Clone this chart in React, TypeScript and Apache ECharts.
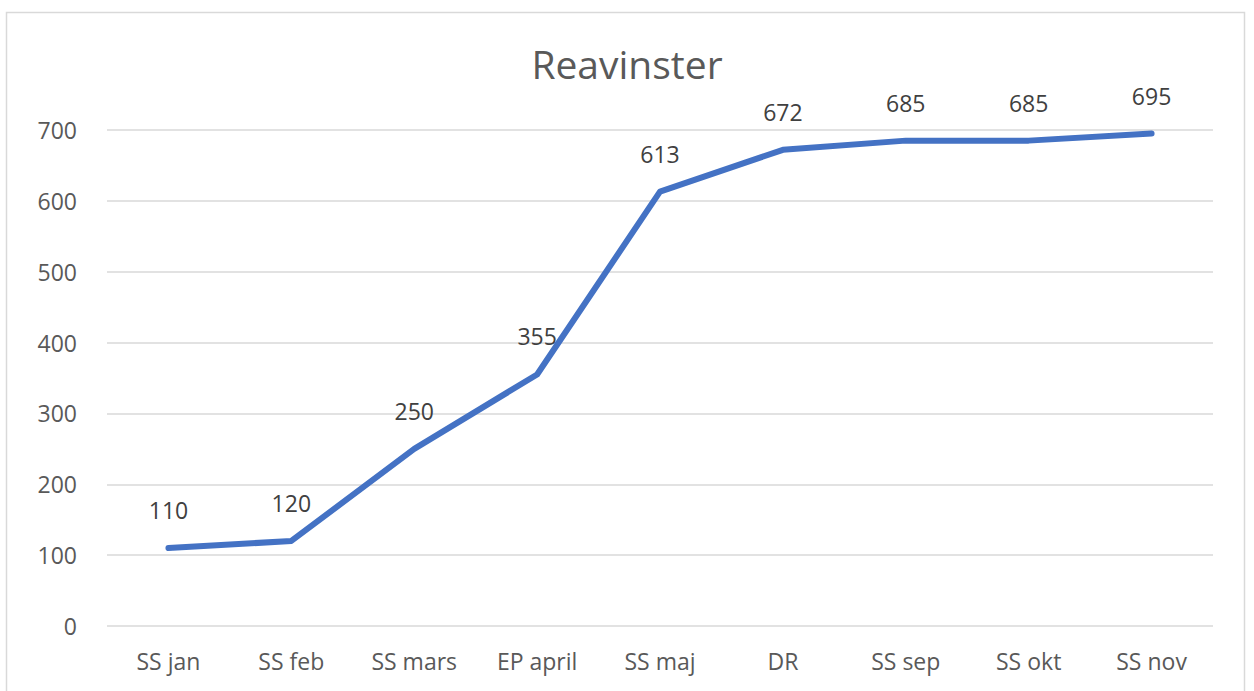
import React, { useEffect, useRef } from "react";
import * as echarts from "echarts";

const categories = ["SS jan", "SS feb", "SS mars", "EP april", "SS maj", "DR", "SS sep", "SS okt", "SS nov"];
const values = [110, 120, 250, 355, 613, 672, 685, 685, 695];
const chartTitle = "Reavinster";

export default function App() {
  const ref = useRef<HTMLDivElement>(null);
  useEffect(() => {
    if (!ref.current) return;
    const chart = echarts.init(ref.current, null, { renderer: "svg" });
    const font = "Open Sans";
    chart.setOption({
      animation: false,
      backgroundColor: "#ffffff",
      title: {
        text: chartTitle,
        left: "center",
        top: 39,
        textStyle: { fontFamily: font, fontSize: 39, fontWeight: "normal", color: "#595959" },
      },
      graphic: [
        {
          type: "rect",
          shape: { x: 6.5, y: 12.5, width: 1238, height: 700 },
          style: { fill: "none", stroke: "#d9d9d9", lineWidth: 1.5 },
          silent: true,
        },
      ],
      grid: { left: 107, right: 41, top: 130, bottom: 65 },
      xAxis: {
        type: "category",
        data: categories,
        boundaryGap: true,
        axisLine: { show: false },
        axisTick: { show: false },
        axisLabel: { fontFamily: font, fontSize: 23, color: "#595959", margin: 23 },
      },
      yAxis: {
        type: "value",
        min: 0,
        max: 700,
        interval: 100,
        axisLine: { show: false },
        axisTick: { show: false },
        axisLabel: { fontFamily: font, fontSize: 23, color: "#595959", margin: 30 },
        splitLine: { lineStyle: { color: "#d9d9d9", width: 1.5 } },
      },
      series: [
        {
          type: "line",
          data: values,
          symbol: "circle",
          symbolSize: 1,
          showSymbol: true,
          itemStyle: { color: "#4472C4" },
          lineStyle: { color: "#4472C4", width: 6, cap: "round", join: "round" },
          label: {
            show: true,
            position: "top",
            distance: 26,
            fontFamily: font,
            fontSize: 23,
            color: "#404040",
          },
        },
      ],
    });
    return () => chart.dispose();
  }, []);
  return (
    <div
      ref={ref}
      style={{ position: "fixed", left: 0, top: 0, width: 1254, height: 691, background: "#fff" }}
    />
  );
}
